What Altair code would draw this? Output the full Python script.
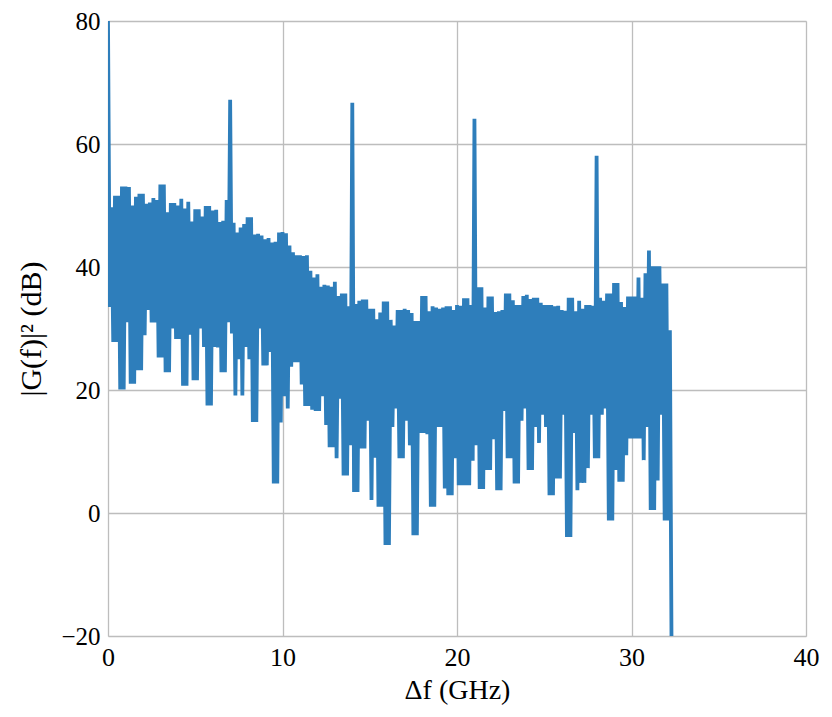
import altair as alt
import pandas as pd

# Upper envelope samples at f = 0.0, 0.2, 0.4, ... GHz
upper = [80, 49.7, 51.6, 51.6, 53.1, 53.1, 53.0, 50, 51.4, 51.9,
         51.9, 50.3, 50.5, 51.2, 50.9, 53.4, 53.4, 48.9, 50.4, 50.4,
         50, 51.1, 49.5, 50.6, 47.4, 49.4, 49.4, 48.2, 49.9, 49.9,
         49.2, 49.3, 47.3, 47.5, 50.9, 67.2, 47.2, 45.6, 46.4, 47,
         48.1, 48.1, 45.3, 45.4, 45.1, 44.5, 44.7, 44, 44.1, 45.6,
         45.7, 45.5, 43.5, 42.4, 41.9, 41.9, 41.8, 41.9, 39.4, 38.3,
         38.8, 36.8, 37.1, 37.0, 36.8, 37.6, 35.3, 35.7, 35.7, 33.6,
         66.7, 34, 34.5, 34.7, 34.7, 33.2, 33.2, 31.5, 32.6, 34.4,
         34.4, 31.4, 30.5, 33, 33, 33.2, 33, 32.5, 31.2, 31.2,
         35.3, 35.3, 32.8, 33.6, 33.4, 33.2, 33.4, 33.6, 33.6, 33,
         33.8, 33.7, 34.9, 34.9, 33.8, 64.1, 36.7, 36.7, 33.4, 35.2,
         35.2, 32.7, 32.8, 33, 35.7, 35.7, 34.6, 33.8, 33.8, 35.3,
         35.5, 34.8, 35, 35, 34.2, 33.8, 33.8, 33.8, 33.6, 33.7,
         33, 32.9, 35, 35, 32.8, 34.5, 33.2, 33.8, 33.8, 33.7,
         58.1, 35, 34.5, 35.7, 35.7, 37.4, 37.4, 34.3, 33.5, 35.2,
         35.2, 35.2, 38.3, 35, 39, 42.7, 40.1, 40.1, 40.1, 37.3,
         37.3, 29.7]

# Lower envelope samples at f = 0.1, 0.3, 0.5, ... GHz
lower = [33.5, 27.8, 27.8, 20.1, 20.1, 31, 21, 21, 23.2, 23.2,
         28.9, 33, 31, 31, 25.3, 25.3, 22.9, 22.9, 30, 28.3,
         28.3, 20.7, 20.7, 29, 21.6, 21.6, 30, 27, 17.5, 17.5,
         27, 26.9, 22.9, 22.9, 31, 29.2, 19.1, 25, 19.1, 27,
         25, 14.8, 14.8, 30, 24, 24, 26.2, 4.8, 4.8, 14.7,
         19, 17, 23.8, 24.5, 24.5, 20.9, 17.4, 17.4, 16.8, 16.6,
         16.6, 19, 14.3, 10.7, 10.7, 8.9, 18.6, 6.1, 6.1, 11,
         3.4, 3.4, 10.5, 10.5, 15, 2.1, 9, 1, 1, -5.2,
         -5.2, 14, 17, 8.9, 8.9, 15, 11, -3.6, -3.6, 13,
         13, 12.8, 1, 1, 14, 14, 4, 2.9, 2.9, 8.9,
         4.5, 4.5, 4.5, 4.5, 8.5, 11, 3.9, 3.9, 7, 7,
         12, 3.7, 3.7, 16.6, 8.9, 8.9, 4.8, 4.8, 15, 17,
         7, 7, 14, 11.4, 16, 14, 2.9, 2.9, 5.6, 5.6,
         16, -3.9, -3.9, 13, 3.7, 4.9, 4.9, 7.3, 16, 8.9,
         8.9, 16, 17, -1.2, -1.2, 7, 5.1, 5.1, 9.4, 12.1,
         12.1, 12.1, 12.1, 8.6, 14, 0.5, 0.5, 5.3, 16, -1.2,
         -1.2, -25]

x_ticks = [0, 10, 20, 30, 40]
y_ticks = [-20, 0, 20, 40, 60, 80]

rows = []
for i, (u, l) in enumerate(zip(upper, lower)):
    rows.append({"f": round(0.2 * i, 2), "db": u})
    rows.append({"f": round(0.2 * i + 0.1, 2), "db": l})
df = pd.DataFrame(rows)

FONT = "Liberation Serif"

line = alt.Chart(df).mark_line(
    color="#2e7ebb", strokeWidth=3.8, clip=True, strokeJoin="miter", strokeMiterLimit=2
).encode(
    x=alt.X("f:Q", scale=alt.Scale(domain=[0, 40], nice=False),
            axis=alt.Axis(values=x_ticks, title="Δf  (GHz)", grid=True,
                          gridColor="#bdbdbd", gridWidth=1.3,
                          domain=False, ticks=False, labelFlush=False,
                          labelFont=FONT, labelFontSize=26, labelColor="black",
                          labelPadding=8, titleFont=FONT, titleFontSize=28,
                          titleFontWeight="normal", titleColor="black",
                          titlePadding=6)),
    y=alt.Y("db:Q", scale=alt.Scale(domain=[-20, 80], nice=False),
            axis=alt.Axis(values=y_ticks, title="|G(f)|\u00b2  (dB)", grid=True,
                          gridColor="#bdbdbd", gridWidth=1.3,
                          domain=False, ticks=False, labelFlush=False,
                          labelFont=FONT, labelFontSize=25, labelColor="black",
                          labelPadding=8, titleFont=FONT, titleFontSize=30,
                          titleFontWeight="normal", titleColor="black",
                          titlePadding=14)),
    order="f:Q",
)

chart = line.properties(
    width=698, height=615,
    autosize=alt.AutoSizeParams(type="none"),
    padding={"left": 100, "top": 13, "right": 18, "bottom": 73},
).configure_view(
    stroke="black", strokeWidth=1.3
).configure(background="white")

chart.save("out.html", embed_options={"renderer": "svg", "actions": False})
